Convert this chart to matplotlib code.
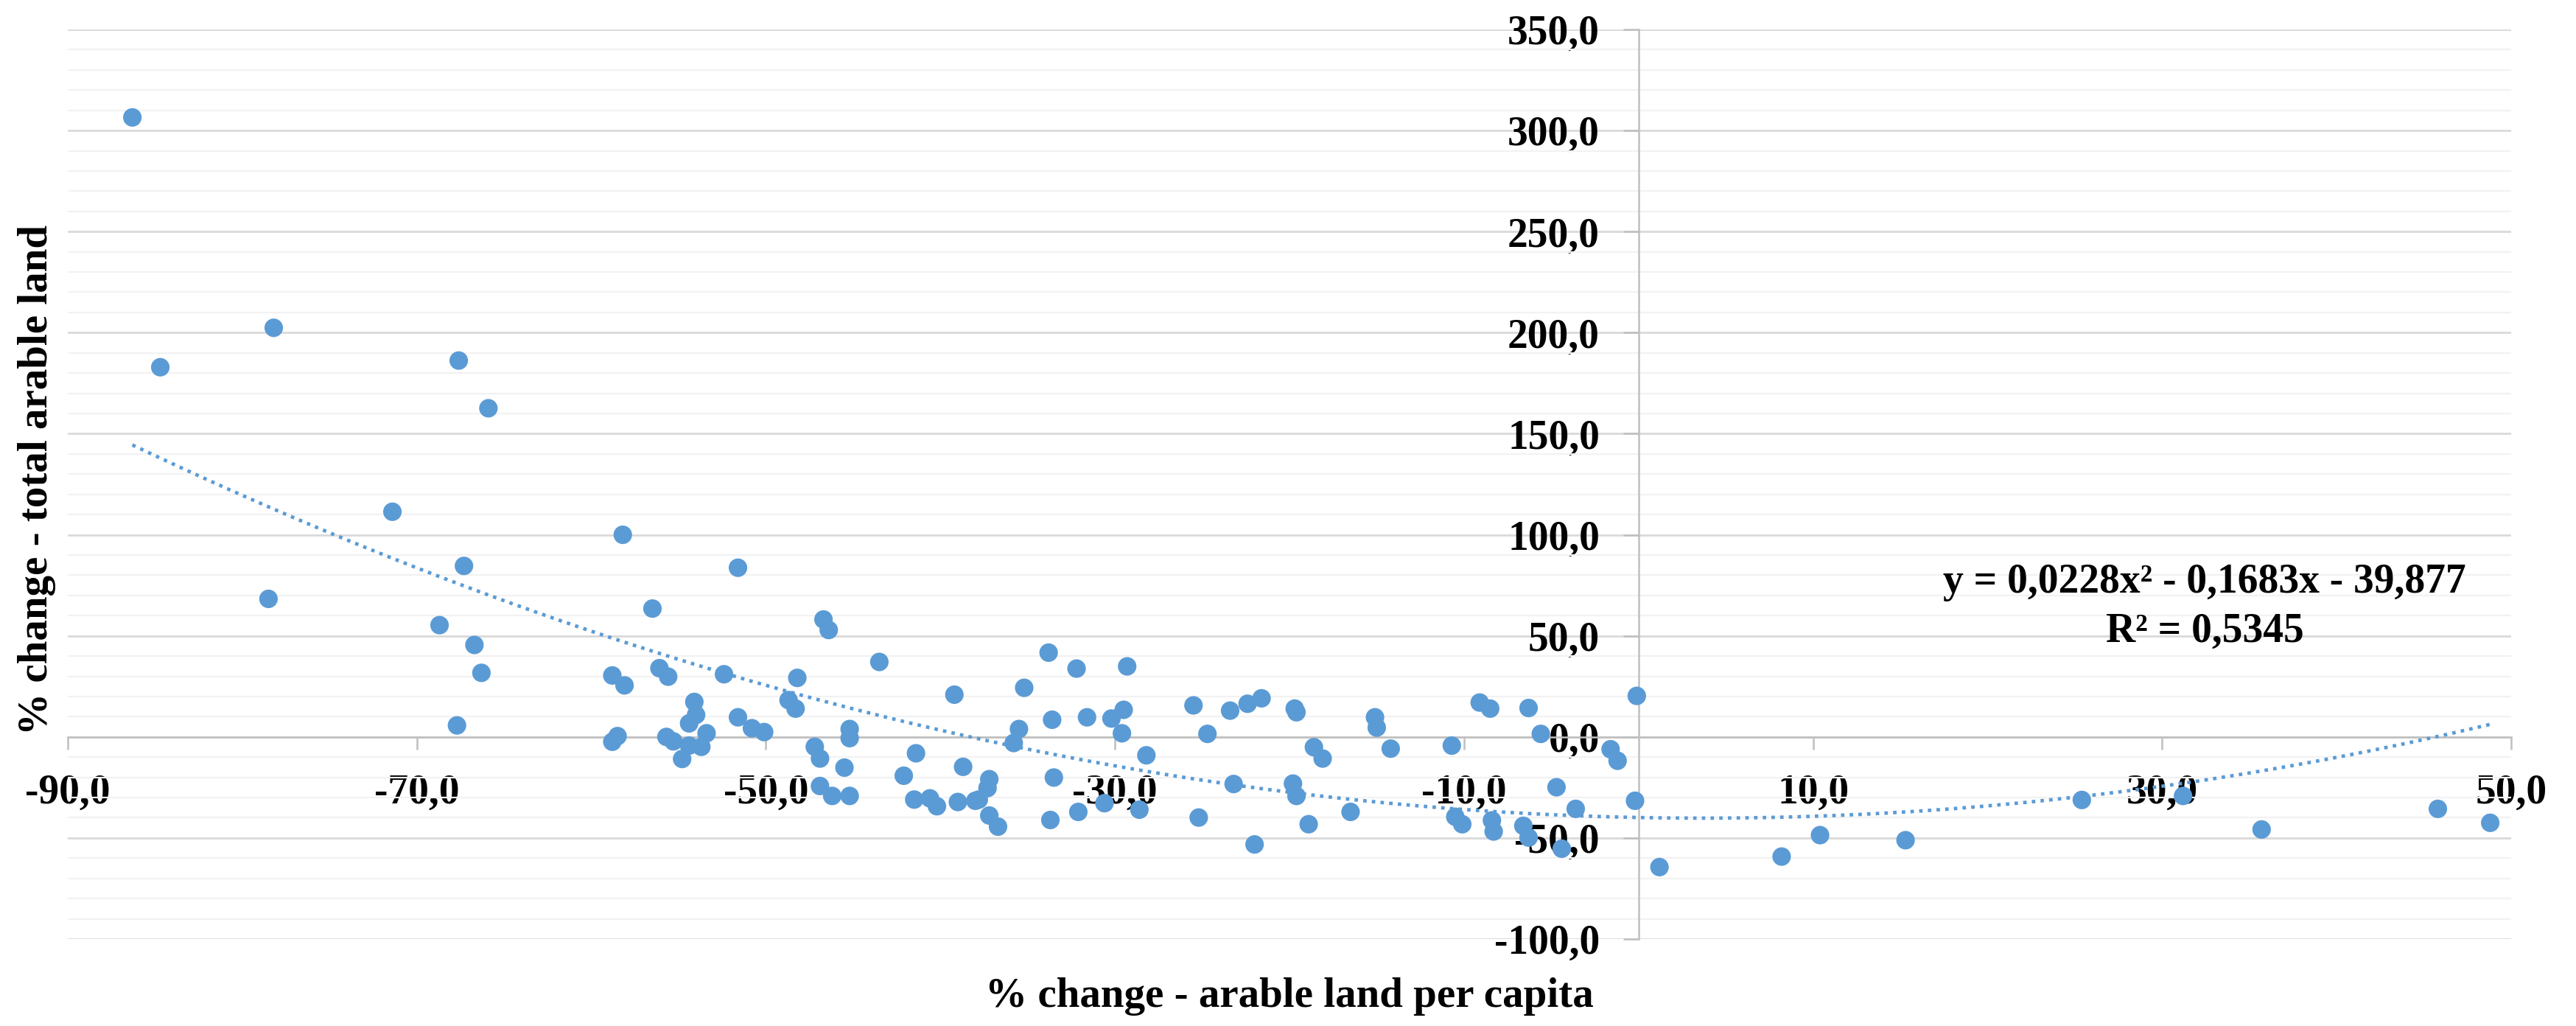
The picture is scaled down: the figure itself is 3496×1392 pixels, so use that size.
import numpy as np
import matplotlib.pyplot as plt
from matplotlib.ticker import MultipleLocator, FuncFormatter

# % change - arable land per capita (x) vs % change - total arable land (y)
x_left = [-86.3, -84.7, -78.2, -78.5, -71.4, -67.6, -65.9, -67.3, -68.7, -66.7,
          -66.3, -67.7, -58.2, -51.6]
y_left = [306.5, 182.9, 202.4, 68.3, 111.4, 186.2, 162.6, 84.6, 55.3, 45.5,
          31.7, 5.7, 100.0, 83.7]

x_mid = [-56.5, -46.7, -46.4, -43.5, -33.8, -32.2, -29.3, -58.8, -58.1, -56.1,
         -55.6, -52.4, -48.2, -35.2, -39.2, -54.1, -54.0, -54.4, -51.6, -48.7,
         -48.3, -50.8, -50.1, -45.2, -45.2, -58.8, -58.5, -55.7, -55.3, -53.4,
         -54.4, -53.7, -54.8, -35.5, -35.8, -33.6, -31.6, -30.2, -29.5, -29.6,
         -47.2, -46.9, -45.5, -41.4, -42.1, -38.7, -37.2, -37.3, -33.5, -46.9,
         -46.2, -45.2, -41.5, -40.6, -40.2, -39.0, -38.0, -37.8, -37.2, -36.7,
         -33.7, -32.1, -30.6, -28.6]
y_mid = [63.5, 58.1, 52.9, 37.1, 41.7, 33.8, 34.9, 30.4, 25.5, 34.0,
         29.8, 31.0, 29.2, 24.3, 20.9, 17.3, 10.9, 6.7, 9.7, 18.2,
         14.0, 4.3, 2.4, 3.9, -0.6, -2.4, 0.4, 0.0, -2.2, 1.8,
         -4.3, -4.9, -10.9, 3.9, -3.0, 8.5, 9.7, 9.1, 13.4, 1.8,
         -4.9, -10.7, -15.2, -8.1, -19.2, -14.8, -20.9, -25.3, -20.1, -24.3,
         -29.2, -29.2, -31.0, -30.4, -34.3, -32.2, -31.6, -31.0, -38.9, -44.4,
         -41.1, -37.1, -32.8, -36.0]

x_near0 = [-28.2, -25.5, -24.7, -23.4, -22.4, -21.6, -19.7, -19.6, -18.6, -18.1,
           -15.1, -15.0, -14.2, -10.7, -9.1, -8.5, -6.3, -5.6, -0.1, -1.6,
           -1.2, -23.2, -19.8, -19.6, -25.2, -18.9, -16.5, -22.0, -10.5, -10.1,
           -8.4, -8.3, -6.6, -6.3, -4.4, -4.7, -3.6, -0.2, 1.2]
y_near0 = [-9.1, 15.6, 1.5, 13.0, 16.4, 19.1, 14.0, 12.2, -5.1, -10.7,
           9.7, 4.6, -5.8, -4.3, 17.0, 14.0, 14.3, 1.5, 20.3, -6.1,
           -11.8, -23.3, -23.1, -29.2, -39.9, -43.2, -37.1, -53.2, -39.5, -43.2,
           -41.3, -46.8, -44.0, -49.8, -55.3, -24.9, -35.6, -31.6, -64.4]

x_right = [8.2, 10.4, 15.3, 25.4, 31.2, 35.7, 45.8, 48.8]
y_right = [-59.2, -48.6, -51.1, -31.2, -29.2, -45.8, -35.6, -42.5]

x = np.array(x_left + x_mid + x_near0 + x_right)
y = np.array(y_left + y_mid + y_near0 + y_right)

# polynomial trendline (order 2) as printed on the chart
trend_a, trend_b, trend_c = 0.0228, -0.1683, -39.877
eq_text = "y = 0,0228x² - 0,1683x - 39,877"
r2_text = "R² = 0,5345"

blue = '#5B9BD5'
serif = ['Liberation Serif', 'DejaVu Serif']

fig = plt.figure(figsize=(17.48, 6.96), dpi=200)
ax = fig.add_axes([92 / 3496, 1 - 1274 / 1392, (3408 - 92) / 3496, (1274 - 40) / 1392])

ax.set_xlim(-90, 50)
ax.set_ylim(-100, 350)

# gridlines
ax.yaxis.set_major_locator(MultipleLocator(50))
ax.yaxis.set_minor_locator(MultipleLocator(10))
ax.xaxis.set_major_locator(plt.FixedLocator(np.arange(-90, 51, 20)))
ax.grid(axis='y', which='major', color='#D9D9D9', linewidth=1.0, zorder=0)
ax.grid(axis='y', which='minor', color='#F2F2F2', linewidth=0.8, zorder=0)
ax.set_axisbelow(True)

# axes cross at zero, like the spreadsheet chart
for side in ['top', 'right']:
    ax.spines[side].set_visible(False)
ax.spines['left'].set_position(('data', 0))
ax.spines['bottom'].set_position(('data', 0))
for side in ['left', 'bottom']:
    ax.spines[side].set_color('#BFBFBF')
    ax.spines[side].set_linewidth(0.9)
    ax.spines[side].set_zorder(1)

fmt = FuncFormatter(lambda v, p: f"{v:.1f}".replace('.', ','))
ax.xaxis.set_major_formatter(fmt)
ax.yaxis.set_major_formatter(fmt)
ax.tick_params(axis='x', which='major', direction='out', length=6.1, width=0.9,
               color='#BFBFBF', pad=12, labelsize=20)
ax.tick_params(axis='y', which='major', direction='out', length=7.5, width=0.9,
               color='#BFBFBF', pad=11.5, labelsize=20)
ax.tick_params(which='minor', length=0)
for lab in ax.get_xticklabels() + ax.get_yticklabels():
    lab.set_family(serif)
    lab.set_fontweight('bold')
    lab.set_zorder(5)

ax.scatter(x, y, s=82, color=blue, edgecolors='none', zorder=3)

xt = np.linspace(x.min(), x.max(), 300)
ax.plot(xt, trend_a * xt ** 2 + trend_b * xt + trend_c, color=blue,
        linewidth=1.7, linestyle=(0, (1, 1.5)), zorder=2)

fig.text(2992 / 3496, 1 - 790 / 1392, eq_text, ha='center', va='center',
         fontsize=20, fontweight='bold', family=serif)
fig.text(2992 / 3496, 1 - 857 / 1392, r2_text, ha='center', va='center',
         fontsize=20, fontweight='bold', family=serif)

fig.text(1750 / 3496, 1 - 1352 / 1392, '% change - arable land per capita',
         ha='center', va='center', fontsize=20.5, fontweight='bold', family=serif)
fig.text(50 / 3496, 1 - 651 / 1392, '% change - total arable land',
         ha='center', va='center', rotation=90, fontsize=20.5, fontweight='bold',
         family=serif)

fig.savefig('out.png', dpi=200)
